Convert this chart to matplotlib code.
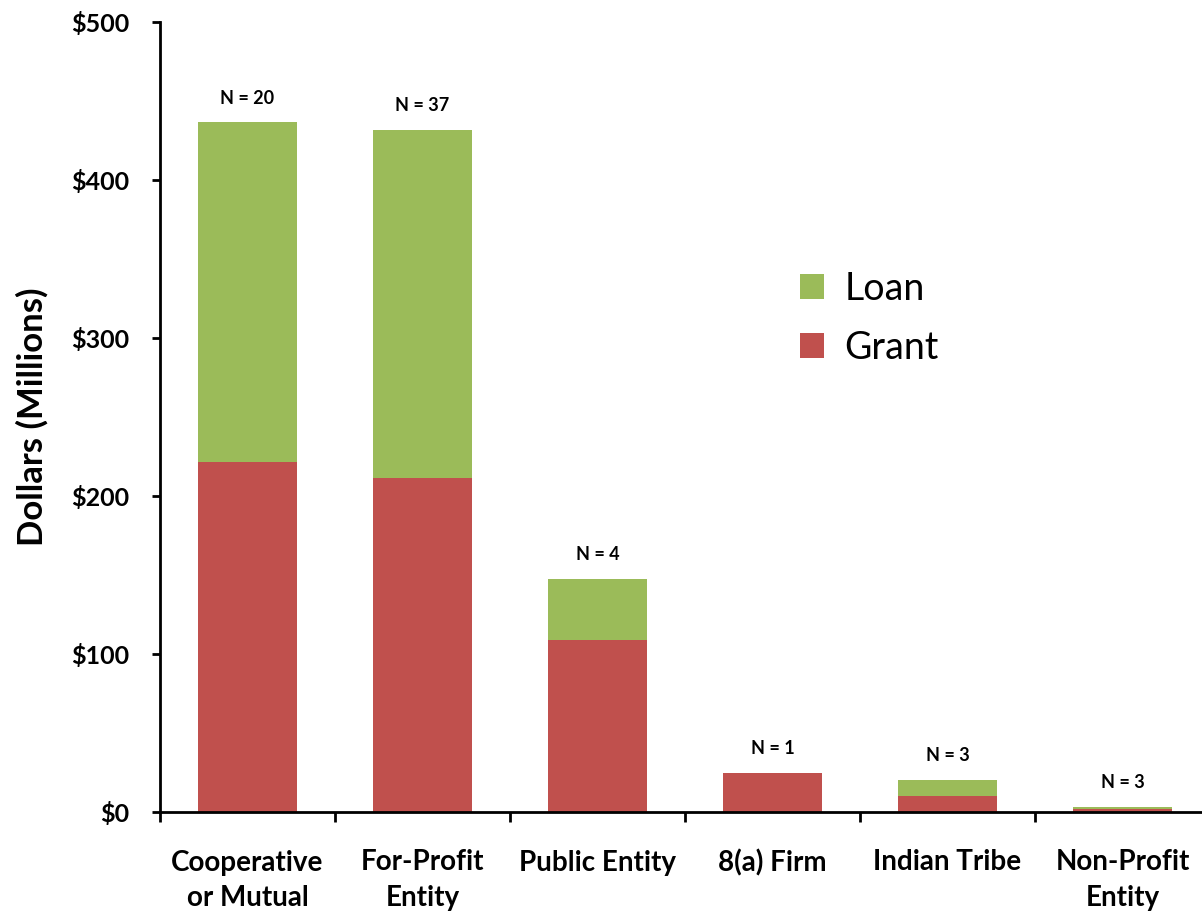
import numpy as np
import matplotlib.pyplot as plt

# categorias y valores (millones de dolares)
categorias = ['Cooperative\nor Mutual', 'For-Profit\nEntity', 'Public Entity',
              '8(a) Firm', 'Indian Tribe', 'Non-Profit\nEntity']
grant = [221.5, 211.5, 109.0, 24.7, 10.1, 1.7]
loan = [215.0, 220.0, 38.5, 0.0, 10.2, 1.7]
n_labels = ['N = 20', 'N = 37', 'N = 4', 'N = 1', 'N = 3', 'N = 3']

VERDE = '#9BBB59'
ROJO = '#C0504D'
FUENTE = 'Lato'

fig = plt.figure(figsize=(12.02, 9.16), dpi=100)
ax = fig.add_axes([160 / 1202, 104 / 916, 1050 / 1202, 790 / 916])

x = np.arange(len(categorias))
ancho = 0.57
ax.bar(x, grant, width=ancho, color=ROJO, label='Grant', zorder=2)
ax.bar(x, loan, width=ancho, bottom=grant, color=VERDE, label='Loan', zorder=2)

totales = np.array(grant) + np.array(loan)
for xi, tot, lab in zip(x, totales, n_labels):
    ax.text(xi, tot + 10, lab, ha='center', va='bottom', fontsize=13,
            fontweight='bold', family=FUENTE)

ax.set_xlim(-0.5, len(categorias) - 0.5)
ax.set_ylim(0, 500)

# ejes
for lado in ['top', 'right']:
    ax.spines[lado].set_visible(False)
ax.spines['left'].set_linewidth(2)
ax.spines['bottom'].set_linewidth(2)

ax.set_yticks(np.arange(0, 501, 100))
ax.set_yticklabels(['$%d' % v for v in range(0, 501, 100)])
ax.tick_params(axis='y', direction='out', length=6, width=2, pad=16,
               labelsize=18)

ax.set_xticks(x)
ax.set_xticklabels(categorias, linespacing=1.45)
ax.tick_params(axis='x', which='major', length=0, pad=27, labelsize=20)
ax.set_xticks(np.arange(-0.5, len(categorias), 1.0), minor=True)
ax.tick_params(axis='x', which='minor', direction='out', length=7, width=2)

for t in ax.get_xticklabels() + ax.get_yticklabels():
    t.set_fontweight('bold')
    t.set_family(FUENTE)

ax.set_ylabel('Dollars (Millions)', fontsize=25, fontweight='bold',
              family=FUENTE, labelpad=16)

handles, labels = ax.get_legend_handles_labels()
leg = ax.legend(handles[::-1], labels[::-1], loc='upper left',
                bbox_to_anchor=(0.577, 0.728), frameon=False,
                prop={'family': FUENTE, 'size': 27},
                handlelength=0.65, handleheight=0.65, labelspacing=0.62,
                handletextpad=0.55)

fig.savefig('out.png', dpi=100)
